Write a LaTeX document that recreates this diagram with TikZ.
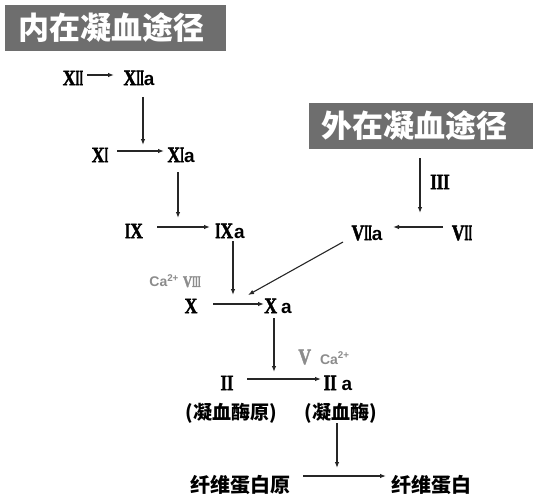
\documentclass[tikz,border=0pt]{standalone}
\usepackage{fontspec}
\setmainfont{Liberation Serif}
\newfontfamily\numfont[FakeBold=2.2]{Liberation Serif Bold}
\newfontfamily\cjk{Noto Sans CJK SC}
\newfontfamily\sansf{Liberation Sans}
\usetikzlibrary{arrows.meta}
\definecolor{titlegray}{HTML}{6E6E6E}
\definecolor{labgray}{HTML}{8C8C8C}
\newcommand\nX{\scalebox{0.8}[1]{X}}
\newcommand\nV{\scalebox{0.8}[1]{V}}
\newcommand\nI{\scalebox{0.45}[1]{I}}
\newcommand\nIm{\scalebox{0.6}[1]{I}}
\newcommand\nIw{\scalebox{0.75}[1]{I}}
\newcommand\rn[1]{{\numfont\fontsize{22}{22}\selectfont #1}}
\newcommand\suba{{\sansf\bfseries\fontsize{19}{19}\selectfont a}}
\newcommand\cafac{{\sansf\bfseries\fontsize{14}{14}\selectfont Ca\textsuperscript{2+}}}
\begin{document}
\begin{tikzpicture}[x=1pt,y=-1pt,
  lab/.style={inner sep=0pt, anchor=center, text=black},
  graylab/.style={inner sep=0pt, anchor=center, text=labgray},
  cjklab/.style={inner sep=0pt, anchor=center, font=\cjk\bfseries\fontsize{19}{19}\selectfont},
  cjkbig/.style={inner sep=0pt, anchor=center, font=\cjk\bfseries\fontsize{20}{20}\selectfont},
  titlebox/.style={fill=titlegray, inner sep=0pt, text=white, font=\cjk\bfseries\fontsize{31}{31}\selectfont},
  arr/.style={-{Latex[length=6pt,width=4.5pt]}, line width=1.1pt, draw=black!85}]
\useasboundingbox (0,0) rectangle (540,500);
% title boxes
\fill[titlegray] (5,5) rectangle (226,51);
\node[titlebox] (T1) at (111,28) {内在凝血途径};
\fill[titlegray] (309,103) rectangle (533,149);
\node[titlebox] (T2) at (414,126) {外在凝血途径};
% factors
\node[lab] (XII) at (73,78) {\rn{\nX\nI\nI}};
\node[lab] (XIIa) at (139,78) {\rn{\nX\nI\nI}\suba};
\node[lab] (XI) at (100,155) {\rn{\nX\nI}};
\node[lab] (XIa) at (181,155) {\rn{\nX\nI}\suba};
\node[lab] (IX) at (134,231) {\rn{\nIm\nX}};
\node[lab] (IXa) at (230,231) {\rn{\nIm\nX}\hspace{1pt}\suba};
\node[graylab] (CaVIII) at (175,281) {\cafac\hspace{4pt}{\numfont\fontsize{16}{16}\selectfont\nV\nI\nI\nI}};
\node[lab] (X) at (191,306) {\rn{\nX}};
\node[lab] (Xa) at (278,306) {\rn{\nX}\hspace{4pt}\suba};
\node[graylab] (VCa) at (324,357) {\rn{\nV}\hspace{9pt}\cafac};
\node[lab] (II) at (227,383) {\rn{\nIw\nIw}};
\node[lab] (IIa) at (338,383) {\rn{\nIw\nIw}\hspace{5pt}\suba};
\node[cjklab] (pro) at (231,413) {(凝血酶原)};
\node[cjklab] (thr) at (341,413) {(凝血酶)};
\node[cjkbig] (fgn) at (240,485) {纤维蛋白原};
\node[cjkbig] (fbn) at (431,485) {纤维蛋白};
\node[lab] (III) at (440,182) {\rn{\nIw\nIw\nIw}};
\node[lab] (VIIa) at (367,233) {\rn{\nV\nI\nI}\suba};
\node[lab] (VII) at (462,233) {\rn{\nV\nI\nI}};
% connector end points
\coordinate (a1s) at (87,75);  \coordinate (a1e) at (114,75);
\coordinate (v1s) at (143,97); \coordinate (v1e) at (143,145);
\coordinate (a2s) at (117,151); \coordinate (a2e) at (164,151);
\coordinate (v2s) at (178,172); \coordinate (v2e) at (178,218);
\coordinate (a3s) at (157,227); \coordinate (a3e) at (210,227);
\coordinate (v3s) at (233,241); \coordinate (v3e) at (233,295);
\coordinate (a4s) at (213,304); \coordinate (a4e) at (264,304);
\coordinate (d1s) at (343,242); \coordinate (d1e) at (248,295);
\coordinate (v4s) at (274,318); \coordinate (v4e) at (274,372);
\coordinate (a5s) at (247,379); \coordinate (a5e) at (321,379);
\coordinate (v5s) at (337,423); \coordinate (v5e) at (337,468);
\coordinate (a6s) at (303,476); \coordinate (a6e) at (386,476);
\coordinate (v6s) at (420,158); \coordinate (v6e) at (420,213);
\coordinate (a7s) at (443,227); \coordinate (a7e) at (393,227);
% connectors
\draw[arr] (a1s) -- (a1e);
\draw[arr] (v1s) -- (v1e);
\draw[arr] (a2s) -- (a2e);
\draw[arr] (v2s) -- (v2e);
\draw[arr] (a3s) -- (a3e);
\draw[arr] (v3s) -- (v3e);
\draw[arr] (a4s) -- (a4e);
\draw[arr] (d1s) -- (d1e);
\draw[arr] (v4s) -- (v4e);
\draw[arr] (a5s) -- (a5e);
\draw[arr] (v5s) -- (v5e);
\draw[arr] (a6s) -- (a6e);
\draw[arr] (v6s) -- (v6e);
\draw[arr] (a7s) -- (a7e);
\end{tikzpicture}
\end{document}
